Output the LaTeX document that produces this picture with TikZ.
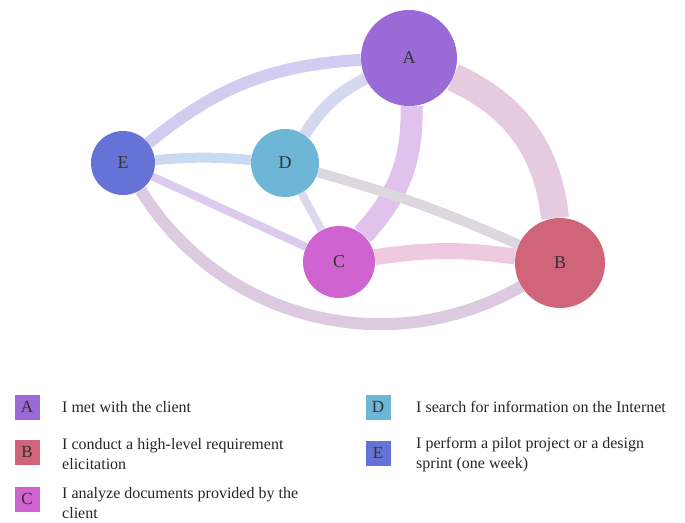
\documentclass[tikz,border=0pt]{standalone}
\usepackage{fontspec}
\setmainfont{Liberation Serif}
\usetikzlibrary{backgrounds}

\definecolor{colA}{RGB}{154,106,214}
\definecolor{colB}{RGB}{208,100,121}
\definecolor{colC}{RGB}{207,99,207}
\definecolor{colD}{RGB}{109,182,214}
\definecolor{colE}{RGB}{101,114,214}

\begin{document}
\begin{tikzpicture}[x=1pt,y=-1pt,
                    vertex/.style={circle,inner sep=0pt,text=black!80,font=\fontsize{18}{18}\selectfont},
                    link/.style={line width=#1},
                    legbox/.style={rectangle,minimum size=25pt,inner sep=0pt,text=black!80,font=\fontsize{17}{17}\selectfont},
                    legtext/.style={anchor=west,align=left,inner sep=0pt,text=black!85,font=\fontsize{16}{20}\selectfont}]
  \useasboundingbox (0,0) rectangle (685,522);

  \node[vertex,fill=colA,minimum size=96pt] (A) at (409,58)  {A};
  \node[vertex,fill=colB,minimum size=90pt] (B) at (560,263) {B};
  \node[vertex,fill=colC,minimum size=72pt] (C) at (339,262) {C};
  \node[vertex,fill=colD,minimum size=68pt] (D) at (285,163) {D};
  \node[vertex,fill=colE,minimum size=64pt] (E) at (123,163) {E};

  \begin{scope}[on background layer]
    \draw[link=12pt,colA!50!colE!35] (E) to[bend left=18]  (A);
    \draw[link=28pt,colA!50!colB!35] (A) to[bend left=30]  (B);
    \draw[link=12pt,colA!50!colD!35] (D) to[bend left=15]  (A);
    \draw[link=22pt,colA!50!colC!40] (A) to[bend left=22]  (C);
    \draw[link=10pt,colE!50!colD!35] (E) to[bend left=5]   (D);
    \draw[link=8pt, colE!50!colC!35] (E) -- (C);
    \draw[link=12pt,colE!50!colB!35] (E) to[bend right=44] (B);
    \draw[link=8pt, colD!50!colC!35] (D) -- (C);
    \draw[link=10pt,colD!50!colB!35] (D) to[bend left=4]   (B);
    \draw[link=16pt,colC!50!colB!35] (C) to[bend left=8]   (B);
  \end{scope}

  % legend
  \node[legbox,fill=colA] (kA) at (27,407) {A};
  \node[legbox,fill=colB] (kB) at (27,452) {B};
  \node[legbox,fill=colC] (kC) at (27,499) {C};
  \node[legbox,fill=colD] (kD) at (378,407) {D};
  \node[legbox,fill=colE] (kE) at (378,453) {E};

  \node[legtext] (tA) at (62,407) {I met with the client};
  \node[legtext] (tB) at (62,454) {I conduct a high-level requirement\\elicitation};
  \node[legtext] (tC) at (62,503) {I analyze documents provided by the\\client};
  \node[legtext] (tD) at (416,407) {I search for information on the Internet};
  \node[legtext] (tE) at (416,455) {I perform a pilot project or a design\\sprint (one week)};
\end{tikzpicture}
\end{document}
